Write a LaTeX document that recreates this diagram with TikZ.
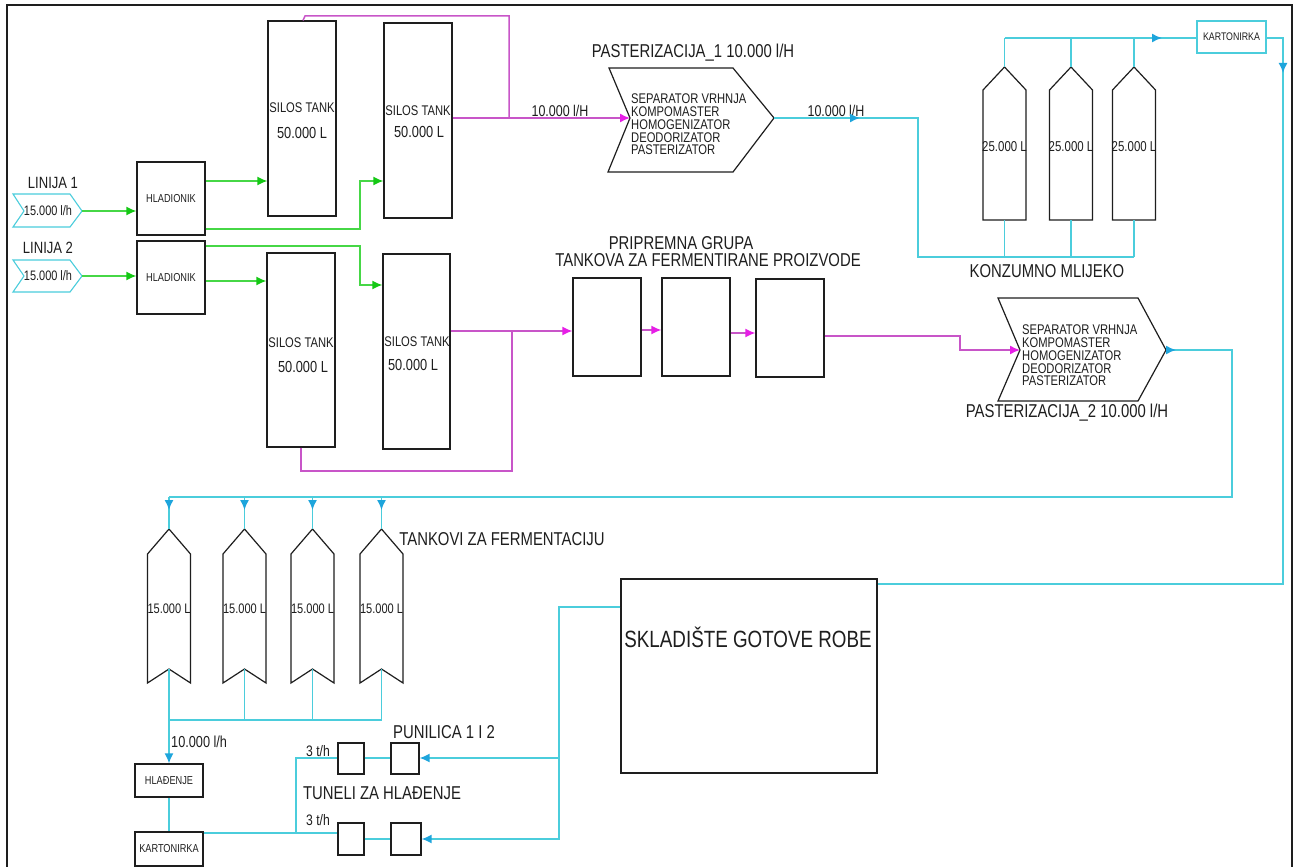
\documentclass[tikz,border=0pt]{standalone}
\usepackage{fontspec}
\setmainfont{Liberation Sans}[FakeStretch=0.8]
\usetikzlibrary{arrows.meta}
\definecolor{gr}{RGB}{70,215,70}
\definecolor{grA}{RGB}{20,200,20}
\definecolor{mg}{RGB}{200,85,200}
\definecolor{mgA}{RGB}{230,30,230}
\definecolor{cy}{RGB}{75,205,220}
\definecolor{cyA}{RGB}{30,165,220}
\definecolor{ink}{RGB}{30,30,30}
\newcommand\fsz[1]{\fontsize{#1}{#1}\selectfont}
\begin{document}
\begin{tikzpicture}[x=1pt,y=-1pt,
  box/.style={draw=ink,line width=1.2pt,inner sep=0pt,text=ink},
  lbl/.style={inner sep=0pt,text=ink},
  shp/.style={draw=ink,line width=1.2pt,line join=miter},
  gline/.style={draw=gr,line width=1.5pt},
  garr/.style={gline,-{Latex[length=10pt,width=9pt,color=grA]}},
  mline/.style={draw=mg,line width=1.5pt},
  marr/.style={mline,-{Latex[length=10pt,width=9pt,color=mgA]}},
  cline/.style={draw=cy,line width=1.5pt},
  carr/.style={cline,-{Latex[length=10pt,width=9pt,color=cyA]}},
  small/.style={font=\fsz{11.5}},
  big/.style={font=\fsz{18.6}},
  multi/.style={align=left,inner sep=0pt,text=ink,font=\fontsize{14}{12.75}\selectfont}
]
\useasboundingbox (0,0) rectangle (1298,867);
\clip (0,0) rectangle (1298,867);
\fill[white] (0,0) rectangle (1298,867);
\draw[line width=2.2pt,ink] (7,880) -- (7,5) -- (1292,5) -- (1292,880);

% ---------- inputs ----------
\draw[draw=cy,line width=1.1pt] (13,194) -- (70,194) -- (82,211) -- (70,227) -- (13,227) -- (24,211) -- cycle;
\draw[draw=cy,line width=1.1pt] (13,260) -- (70,260) -- (82,276) -- (70,292) -- (13,292) -- (24,276) -- cycle;
\coordinate (in1) at (82,211);
\coordinate (in2) at (82,276);
\node[lbl,font=\fsz{13.7}] (in1t) at (48,211) {15.000 l/h};
\node[lbl,font=\fsz{13.7}] (in2t) at (48,276) {15.000 l/h};
\node[lbl,font=\fsz{16.3}] (lin1) at (53,183) {LINIJA 1};
\node[lbl,font=\fsz{16.3}] (lin2) at (48,248) {LINIJA 2};

% ---------- coolers and silos ----------
\node[box,small,minimum width=68,minimum height=73] (hlad1) at (171,198.5) {HLADIONIK};
\node[box,small,minimum width=68,minimum height=73] (hlad2) at (171,277.5) {HLADIONIK};
\node[box,minimum width=68,minimum height=195] (silo1) at (302,118.5) {};
\node[box,minimum width=68,minimum height=195] (silo2) at (418,120.5) {};
\node[box,minimum width=68,minimum height=194] (silo3) at (301,350) {};
\node[box,minimum width=67,minimum height=195] (silo4) at (416.5,351.5) {};
\node[lbl,font=\fsz{14}] (s1a) at (302,108) {SILOS TANK};
\node[lbl,font=\fsz{16}] (s1b) at (302,133) {50.000 L};
\node[lbl,font=\fsz{14}] (s2a) at (418,111) {SILOS TANK};
\node[lbl,font=\fsz{16}] (s2b) at (419,132) {50.000 L};
\node[lbl,font=\fsz{14}] (s3a) at (301,343) {SILOS TANK};
\node[lbl,font=\fsz{16}] (s3b) at (303,367) {50.000 L};
\node[lbl,font=\fsz{14}] (s4a) at (417,342) {SILOS TANK};
\node[lbl,font=\fsz{16}] (s4b) at (413,365) {50.000 L};

% green connectors
\draw[garr] (in1) -- (hlad1.west |- in1);
\draw[garr] (in2) -- (hlad2.west |- in2);
\draw[garr] (hlad1.east |- 0,181) -- (silo1.west |- 0,181);
\draw[garr] (hlad1.east |- 0,229) -- (360,229) -- (360,181) -- (silo2.west |- 0,181);
\draw[garr] (hlad2.east |- 0,246) -- (360,246) -- (360,285) -- (silo4.west |- 0,285);
\draw[garr] (hlad2.east |- 0,281) -- (silo3.west |- 0,281);

% ---------- pasteurizer 1 ----------
\draw[shp] (609,68) -- (733,68) -- (774,118) -- (733,172) -- (608,172) -- (630,118) -- cycle;
\coordinate (p1notch) at (630,118);
\coordinate (p1tip) at (774,118);
\node[multi,anchor=west] (p1txt) at (631,124.5) {SEPARATOR VRHNJA\\KOMPOMASTER\\HOMOGENIZATOR\\DEODORIZATOR\\PASTERIZATOR};
\node[lbl,big] (p1title) at (693,53) {PASTERIZACIJA\_1 10.000 l/H};
\node[lbl,font=\fsz{15.6}] (p1in) at (560,111) {10.000 l/H};
\node[lbl,font=\fsz{15.6}] (p1out) at (836,111) {10.000 l/H};

% magenta top
\draw[mline] (silo1.north -| 303,0) -- (305,16) -- (509,16) -- (509,118);
\draw[marr] (silo2.east |- 0,118) -- (p1notch);

% ---------- consumption milk tanks ----------
\foreach \i/\x in {1/1004.5,2/1071,3/1134} {
  \draw[shp] (\x-21.5,220) -- (\x-21.5,90) -- (\x,67) -- (\x+21.5,90) -- (\x+21.5,220) -- cycle;
  \coordinate (k\i top) at (\x,67);
  \coordinate (k\i bot) at (\x,220);
  \node[lbl,font=\fsz{14.3}] (k\i lab) at (\x,147) {25.000 L};
}
\node[lbl,big] (konz) at (1047,271) {KONZUMNO MLIJEKO};
\node[box,draw=cy,line width=1.1pt,font=\fsz{11},minimum width=69,minimum height=32] (kart1) at (1231.5,37) {KARTONIRKA};

\draw[cline] (p1tip) -- (918,118) -- (918,257) -- (k3bot |- 0,257);
\draw[carr] (p1tip) -- (860,118);
\foreach \i in {1,2,3} {
  \draw[cline] (k\i bot) -- (k\i bot |- 0,257);
  \draw[cline] (k\i top) -- (k\i top |- 0,38);
}
\draw[cline] (k1top |- 0,38) -- (kart1.west |- 0,38);
\draw[carr] (k3top |- 0,38) -- (1162,38);
\draw[cline] (kart1.east |- 0,38) -- (1283,38) -- (1283,584) -- (877,584);
\draw[carr] (1283,38) -- (1283,73);

% ---------- preparation group ----------
\node[lbl,big] (prepA) at (681,243) {PRIPREMNA GRUPA};
\node[lbl,big] (prepB) at (708,260) {TANKOVA ZA FERMENTIRANE PROIZVODE};
\node[box,minimum width=68,minimum height=98] (prep1) at (607,327) {};
\node[box,minimum width=68,minimum height=98] (prep2) at (696,327) {};
\node[box,minimum width=68,minimum height=98] (prep3) at (790,328) {};

\draw[marr] (silo4.east |- 0,331) -- (prep1.west |- 0,331);
\draw[mline] (silo3.south) -- (301,471) -- (512,471) -- (512,331);
\draw[marr] (prep1.east |- 0,330) -- (prep2.west |- 0,330);
\draw[marr] (prep2.east |- 0,333) -- (prep3.west |- 0,333);

% ---------- pasteurizer 2 ----------
\draw[shp] (998,298) -- (1138,298) -- (1166,350) -- (1138,401) -- (998,401) -- (1020,350) -- cycle;
\coordinate (p2notch) at (1020,350);
\coordinate (p2tip) at (1166,350);
\node[multi,anchor=west] (p2txt) at (1022,355.5) {SEPARATOR VRHNJA\\KOMPOMASTER\\HOMOGENIZATOR\\DEODORIZATOR\\PASTERIZATOR};
\node[lbl,big] (p2title) at (1067,413) {PASTERIZACIJA\_2 10.000 l/H};
\draw[marr] (prep3.east |- 0,336) -- (960,336) -- (960,350) -- (p2notch);

% ---------- fermentation tanks ----------
\foreach \i/\x in {1/169,2/244.5,3/312.5,4/381.5} {
  \draw[shp] (\x-21.5,683) -- (\x-21.5,554) -- (\x,529) -- (\x+21.5,554) -- (\x+21.5,683) -- (\x,669) -- cycle;
  \coordinate (f\i top) at (\x,529);
  \coordinate (f\i bot) at (\x,669);
  \node[lbl,font=\fsz{13.8}] (f\i lab) at (\x,609) {15.000 L};
}
\node[lbl,big] (fermlab) at (502,539) {TANKOVI ZA FERMENTACIJU};

\draw[cline] (p2tip) -- (1232,350) -- (1232,497) -- (f1top |- 0,497);
\draw[carr] (p2tip) -- (1176,350);
\foreach \i in {1,2,3,4} {
  \draw[cline] (f\i top |- 0,497) -- (f\i top);
  \draw[carr] (f\i top |- 0,497) -- ++(0,13);
  \draw[cline] (f\i bot) -- (f\i bot |- 0,720);
}
\draw[cline] (f1bot |- 0,720) -- (f4bot |- 0,720);

% ---------- cooling and packing ----------
\node[box,small,minimum width=68,minimum height=33] (hlad3) at (169,780.5) {HLAĐENJE};
\node[box,small,minimum width=68,minimum height=34] (kart2) at (169,849) {KARTONIRKA};
\node[lbl,font=\fsz{15.9},anchor=west] (flow3) at (171,742) {10.000 l/h};
\draw[carr] (f1bot |- 0,720) -- (hlad3.north);
\draw[cline] (hlad3.south) -- (kart2.north);

\node[box,minimum width=26,minimum height=31] (tun1) at (351,758.5) {};
\node[box,minimum width=28,minimum height=31] (pun1) at (405,758.5) {};
\node[box,minimum width=26,minimum height=32] (tun2) at (351,839) {};
\node[box,minimum width=30,minimum height=32] (pun2) at (406,839) {};
\node[lbl,font=\fsz{15.2},anchor=south] (t1) at (318,757) {3 t/h};
\node[lbl,font=\fsz{15.2}] (t2) at (318,820) {3 t/h};
\node[lbl,big] (punlab) at (444,732) {PUNILICA 1 I 2};
\node[lbl,big] (tunlab) at (382,793) {TUNELI ZA HLAĐENJE};

\draw[cline] (kart2.east |- 0,833) -- (tun2.west |- 0,833);
\draw[cline] (296,833) -- (296,758) -- (tun1.west |- 0,758);
\draw[cline] (tun1.east |- 0,758) -- (pun1.west |- 0,758);
\draw[cline] (tun2.east |- 0,839) -- (pun2.west |- 0,839);

% ---------- warehouse ----------
\node[box,minimum width=256,minimum height=194] (sklad) at (749,676) {};
\node[lbl,font=\fsz{23.5}] (skladt) at (748,637) {SKLADIŠTE GOTOVE ROBE};
\draw[carr] (sklad.west |- 0,607) -- (559,607) -- (559,839) -- (pun2.east |- 0,839);
\draw[carr] (559,758) -- (pun1.east |- 0,758);
\end{tikzpicture}
\end{document}
